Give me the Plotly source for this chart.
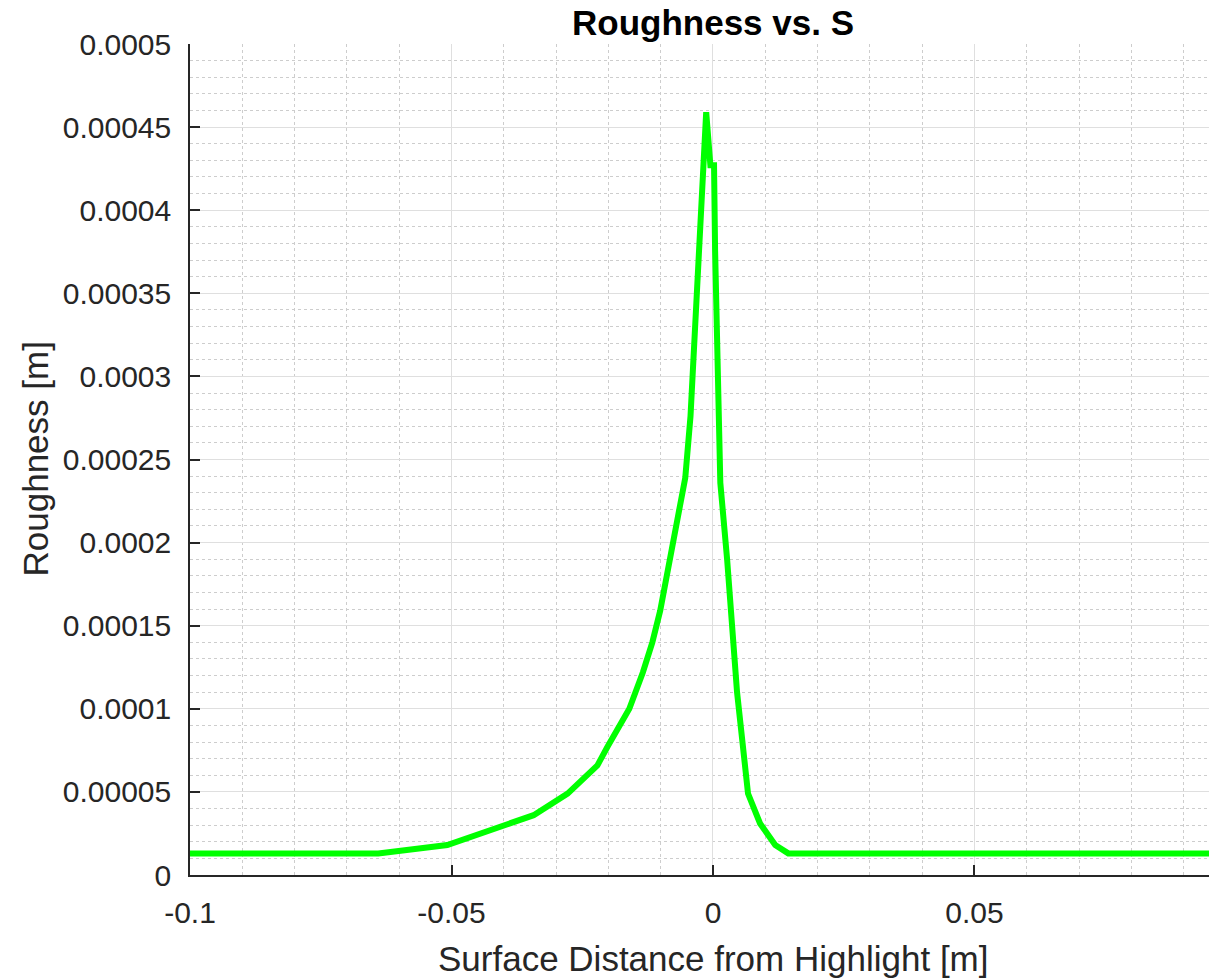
import plotly.graph_objects as go

# Data
s_vals = [-0.1, -0.064, -0.0508, -0.0343, -0.0278, -0.0221, -0.0202, -0.0160, -0.0134,
          -0.0116, -0.0101, -0.0082, -0.0053, -0.0043, -0.0038, -0.0030, -0.0024,
          -0.0013, -0.0005, 0.0002, 0.0004, 0.0008, 0.0014, 0.0027, 0.0037, 0.0046,
          0.0067, 0.0090, 0.0119, 0.0144, 0.1]
roughness = [1.3e-5, 1.3e-5, 1.8e-5, 3.6e-5, 4.9e-5, 6.6e-5, 7.7e-5, 1.0e-4, 1.22e-4,
             1.40e-4, 1.59e-4, 1.90e-4, 2.39e-4, 2.76e-4, 3.06e-4, 3.46e-4, 3.76e-4,
             4.59e-4, 4.27e-4, 4.27e-4, 3.76e-4, 3.16e-4, 2.36e-4, 1.90e-4, 1.49e-4, 1.10e-4,
             4.9e-5, 3.1e-5, 1.8e-5, 1.3e-5, 1.3e-5]

x_tickvals = [-0.1, -0.05, 0, 0.05]
x_ticktext = ["-0.1", "-0.05", "0", "0.05"]
y_tickvals = [0, 0.00005, 0.0001, 0.00015, 0.0002, 0.00025, 0.0003, 0.00035, 0.0004, 0.00045, 0.0005]
y_ticktext = ["0", "0.00005", "0.0001", "0.00015", "0.0002", "0.00025", "0.0003",
              "0.00035", "0.0004", "0.00045", "0.0005"]

title_text = "Roughness vs. S"
x_label = "Surface Distance from Highlight [m]"
y_label = "Roughness [m]"

FONT = "Liberation Sans, Arial, Helvetica, sans-serif"
AXC = "#262626"
GRID = "#dfdfdf"
MINOR = "#cdcdcd"

fig = go.Figure()
fig.add_trace(go.Scatter(x=s_vals, y=roughness, mode="lines",
                         line=dict(color="#00ff00", width=6), showlegend=False))

fig.update_layout(
    width=1209, height=979,
    margin=dict(l=190, r=0, t=44, b=104, autoexpand=False),
    paper_bgcolor="white", plot_bgcolor="white",
    font=dict(family=FONT, size=30, color=AXC),
    xaxis=dict(range=[-0.1, 0.09484], tickvals=x_tickvals, ticktext=x_ticktext,
               showline=True, linecolor=AXC, linewidth=1.5, mirror=False,
               ticks="inside", ticklen=10, tickcolor=AXC, tickwidth=1.5,
               showgrid=True, gridcolor=GRID, gridwidth=1, zeroline=False,
               ticklabelstandoff=10, automargin=False,
               tickfont=dict(size=30, color=AXC, family=FONT),
               minor=dict(dtick=0.01, tick0=0, showgrid=True, gridcolor=MINOR,
                          griddash="dot", gridwidth=1, ticks="")),
    yaxis=dict(range=[0, 0.0005], tickvals=y_tickvals, ticktext=y_ticktext,
               showline=True, linecolor=AXC, linewidth=1.5, mirror=False,
               ticks="inside", ticklen=10, tickcolor=AXC, tickwidth=1.5,
               showgrid=True, gridcolor=GRID, gridwidth=1, zeroline=False,
               ticklabelstandoff=11, automargin=False,
               tickfont=dict(size=30, color=AXC, family=FONT),
               minor=dict(dtick=0.00001, tick0=0, showgrid=True, gridcolor=MINOR,
                          griddash="dot", gridwidth=1, ticks="")),
    annotations=[
        dict(text="<b>" + title_text + "</b>", x=0, xref="x", y=1, yref="paper",
             yshift=22, xanchor="center", yanchor="middle", showarrow=False,
             font=dict(size=35, color="black", family=FONT)),
        dict(text=x_label, x=0, xref="x", y=0, yref="paper", yshift=-83,
             xanchor="center", yanchor="middle", showarrow=False,
             font=dict(size=35, color=AXC, family=FONT)),
        dict(text=y_label, x=0, xref="paper", xshift=-155, y=0.5, yref="paper",
             xanchor="center", yanchor="middle", textangle=-90, showarrow=False,
             font=dict(size=35, color=AXC, family=FONT)),
    ],
)

fig.write_html("out.html", config={"displayModeBar": False},
               post_script="document.body.style.margin='0';document.body.style.overflow='hidden';")
